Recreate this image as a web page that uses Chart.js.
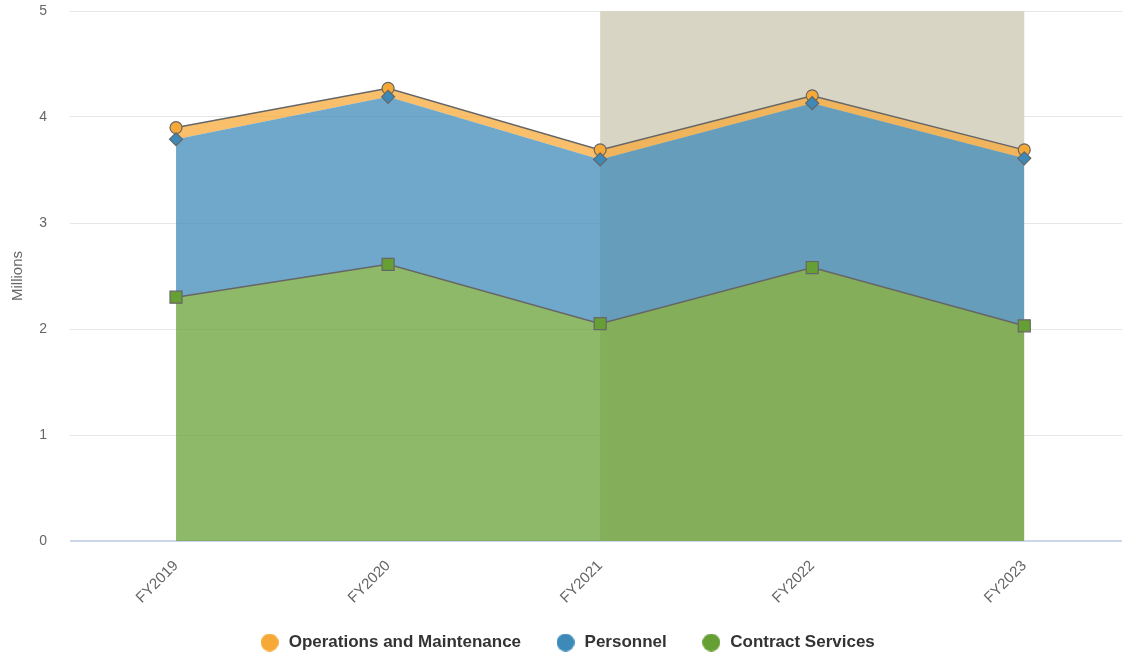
<!DOCTYPE html>
<html>
<head>
<meta charset="utf-8">
<script src="https://cdn.jsdelivr.net/npm/chart.js@4.4.0/dist/chart.umd.min.js"></script>
<style>
  html, body { margin: 0; padding: 0; background: #fff; overflow: hidden; }
  canvas { display: block; }
</style>
</head>
<body>
<canvas id="budget_chart" width="1140" height="654"></canvas>
<script>
// Budget by category, stacked areas (millions)

const years = ['FY2019', 'FY2020', 'FY2021', 'FY2022', 'FY2023'];
const contractServices = [2.30, 2.61, 2.05, 2.58, 2.03];
const personnel = [1.49, 1.58, 1.55, 1.55, 1.58];
const operations = [0.11, 0.08, 0.09, 0.07, 0.08];
const yTicks = [0, 1, 2, 3, 4, 5];

// shaded band behind the later years
const bandFrom = 'FY2021';
const bandTo = 'FY2023';

const FONT = 'Liberation Sans, Arial, sans-serif';

const ctx = document.getElementById('budget_chart').getContext('2d');

const bandPlugin = {
    id: 'yearBand',
    beforeDraw(chart) {
        // let the slanted year labels run past the axis box
        chart.scales.x._computeLabelArea = () => undefined;
    },
    beforeDatasetsDraw(chart) {
        const x = chart.scales.x;
        const area = chart.chartArea;
        const x0 = x.getPixelForValue(years.indexOf(bandFrom));
        const x1 = x.getPixelForValue(years.indexOf(bandTo));
        const c = chart.ctx;
        c.save();
        c.fillStyle = '#d8d5c4';
        c.fillRect(x0, area.top, x1 - x0, area.bottom - area.top);
        c.restore();
    }
};

// round legend dots
function dot(color) {
    const cv = document.createElement('canvas');
    cv.width = 18; cv.height = 18;
    const g = cv.getContext('2d');
    g.fillStyle = color;
    g.beginPath();
    g.arc(9, 9, 9, 0, Math.PI * 2);
    g.fill();
    return cv;
}

let budget_chart = new Chart(ctx, {
    type: 'line',
    data: {
        labels: years,
        datasets: [
            {
                label: 'Contract Services',
                data: contractServices,
                fill: 'origin',
                backgroundColor: 'rgba(102,160,53,0.74)',
                borderColor: '#666666',
                borderWidth: 1.5,
                pointStyle: 'rect',
                pointRadius: 8.5,
                pointBackgroundColor: '#66a035',
                pointBorderColor: '#666666',
                pointBorderWidth: 1.2,
            },
            {
                label: 'Personnel',
                data: personnel,
                fill: '-1',
                backgroundColor: 'rgba(61,138,184,0.74)',
                borderColor: 'rgba(0,0,0,0)',
                borderWidth: 0,
                pointStyle: 'rectRot',
                pointRadius: 6.5,
                pointBackgroundColor: '#3d8ab8',
                pointBorderColor: '#666666',
                pointBorderWidth: 1.2,
            },
            {
                label: 'Operations and Maintenance',
                data: operations,
                fill: '-1',
                backgroundColor: 'rgba(247,169,55,0.74)',
                borderColor: '#666666',
                borderWidth: 1.5,
                pointStyle: 'circle',
                pointRadius: 6,
                pointBackgroundColor: '#f7a937',
                pointBorderColor: '#666666',
                pointBorderWidth: 1.2,
            }
        ]
    },
    options: {
        responsive: false,
        animation: false,
        layout: { padding: { top: 0, right: 0, bottom: -7, left: -6 } },
        elements: { line: { tension: 0 } },
        scales: {
            x: {
                offset: true,
                grid: { display: false, drawTicks: false },
                border: { display: false },
                ticks: {
                    color: '#666666',
                    font: { family: FONT, size: 15 },
                    maxRotation: 45,
                    minRotation: 45,
                    padding: 16,
                },
                afterFit(scale) {
                    scale.height = 59;
                    scale.paddingLeft = 0;
                    scale.paddingRight = 0;
                }
            },
            y: {
                stacked: true,
                min: 0,
                max: 5,
                afterBuildTicks(scale) { scale.ticks = yTicks.map(v => ({ value: v })); },
                grid: {
                    color: c => c.tick && c.tick.value === 0 ? '#ccd6eb' : '#e6e6e6',
                    lineWidth: c => c.tick && c.tick.value === 0 ? 2 : 1,
                    drawTicks: false
                },
                border: { display: false },
                ticks: {
                    color: '#666666',
                    font: { family: FONT, size: 14 },
                    padding: 23,
                },
                title: {
                    display: true,
                    text: 'Millions',
                    color: '#666666',
                    font: { family: FONT, size: 15 },
                    padding: { top: 15, bottom: 0 }
                },
                afterFit(scale) {
                    scale.width = 76;
                    scale.paddingTop = 11;
                    scale.paddingBottom = 8;
                }
            }
        },
        plugins: {
            tooltip: { enabled: false },
            legend: {
                position: 'bottom',
                reverse: true,
                labels: {
                    usePointStyle: true,
                    pointStyleWidth: 21,
                    boxHeight: 17,
                    padding: 34,
                    color: '#333333',
                    font: { family: FONT, size: 17, weight: 'bold' },
                    generateLabels(chart) {
                        const items = Chart.defaults.plugins.legend.labels.generateLabels(chart);
                        items.forEach(it => {
                            const ds = chart.data.datasets[it.datasetIndex];
                            it.pointStyle = dot(ds.pointBackgroundColor);
                            it.lineWidth = 0;
                        });
                        return items;
                    }
                }
            }
        }
    },
    plugins: [bandPlugin]
});
</script>
</body>
</html>
